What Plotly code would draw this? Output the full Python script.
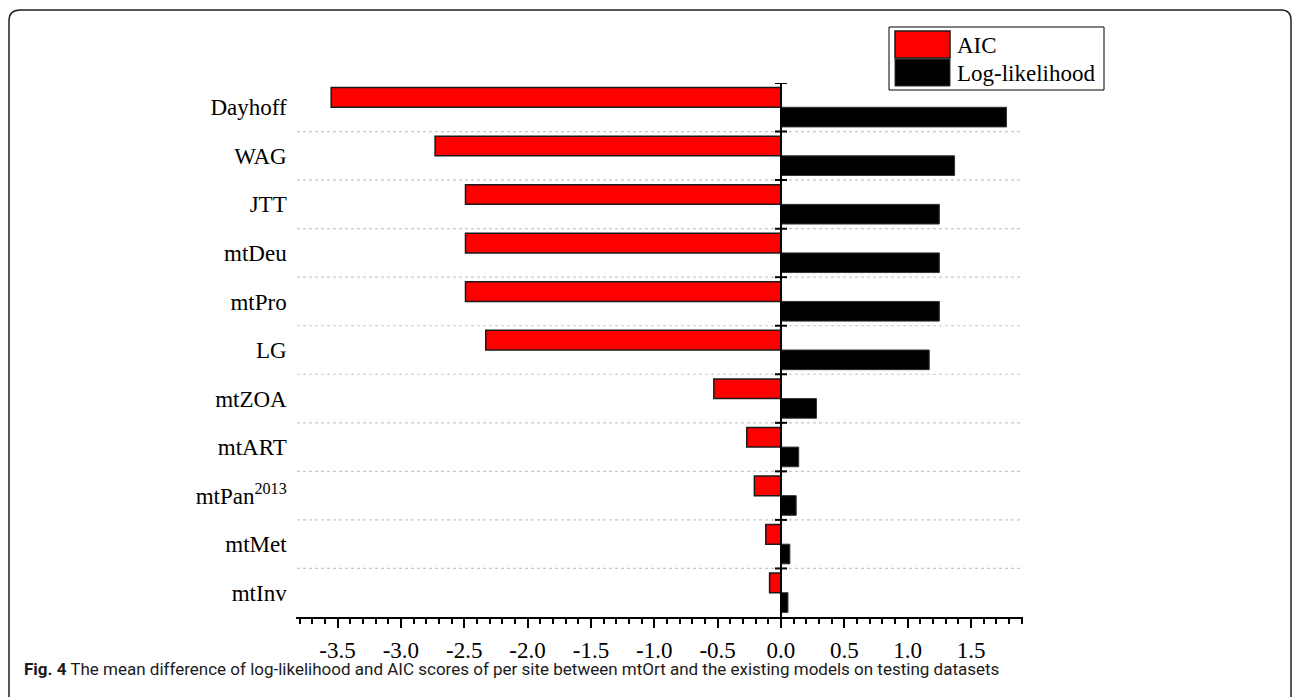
import plotly.graph_objects as go

# ---------------- data ----------------
models = ["Dayhoff", "WAG", "JTT", "mtDeu", "mtPro", "LG",
          "mtZOA", "mtART", "mtPan2013", "mtMet", "mtInv"]
model_labels = ["Dayhoff", "WAG", "JTT", "mtDeu", "mtPro", "LG",
                "mtZOA", "mtART", "mtPan<sup>2013</sup>", "mtMet", "mtInv"]
aic = [-3.55, -2.73, -2.49, -2.49, -2.49, -2.33, -0.53, -0.27, -0.21, -0.12, -0.09]
loglik = [1.78, 1.37, 1.25, 1.25, 1.25, 1.17, 0.28, 0.14, 0.12, 0.07, 0.055]
x_tick_values = [-3.5, -3.0, -2.5, -2.0, -1.5, -1.0, -0.5, 0.0, 0.5, 1.0, 1.5]
x_tick_labels = ["-3.5", "-3.0", "-2.5", "-2.0", "-1.5", "-1.0", "-0.5", "0.0", "0.5", "1.0", "1.5"]
series_names = ["AIC", "Log-likelihood"]
caption_bold = "Fig. 4"
caption_text = ("The mean difference of log-likelihood and AIC scores of per site "
                "between mtOrt and the existing models on testing datasets")

# ---------------- helpers (pixel -> paper) ----------------
W, H = 1292, 697
def px(x):
    return x / W
def py(y):
    return 1 - y / H

SERIF = "Liberation Serif"

fig = go.Figure()
fig.add_trace(go.Bar(
    y=models, x=aic, orientation="h", name=series_names[0],
    marker=dict(color="#ff0000", line=dict(color="#1a1a1a", width=1.5)),
))
fig.add_trace(go.Bar(
    y=models, x=loglik, orientation="h", name=series_names[1],
    marker=dict(color="#000000", line=dict(color="#333333", width=1)),
))

shapes = []
# dotted grid lines between categories
for i in range(len(models) - 1):
    shapes.append(dict(type="line", xref="paper", yref="y",
                       x0=px(297), x1=px(1021), y0=i + 0.5, y1=i + 0.5,
                       line=dict(color="#c8c8c8", width=1.2, dash="dot"), layer="below"))
# vertical axis at zero
shapes.append(dict(type="line", xref="x", yref="paper", x0=0, x1=0,
                   y0=py(617), y1=py(83), line=dict(color="black", width=2)))
# crossing ticks at category boundaries
for i in range(len(models)):
    b = i - 0.5
    shapes.append(dict(type="line", xref="x", xsizemode="pixel", xanchor=0,
                       x0=-6, x1=6, yref="y", y0=b, y1=b,
                       line=dict(color="black", width=2)))
# custom legend
shapes.append(dict(type="rect", xref="paper", yref="paper",
                   x0=px(889), x1=px(1104), y0=py(27), y1=py(90),
                   line=dict(color="black", width=1), fillcolor="white"))
shapes.append(dict(type="rect", xref="paper", yref="paper",
                   x0=px(895), x1=px(950), y0=py(31), y1=py(58),
                   line=dict(color="#1a1a1a", width=1.5), fillcolor="#ff0000"))
shapes.append(dict(type="rect", xref="paper", yref="paper",
                   x0=px(895), x1=px(950), y0=py(59), y1=py(86),
                   line=dict(color="#333333", width=1), fillcolor="#000000"))
# rounded figure frame
frame = (f"M {px(9)},{py(697)} L {px(9)},{py(21)} Q {px(9)},{py(10)} {px(20)},{py(10)} "
         f"L {px(1281)},{py(10)} Q {px(1291)},{py(10)} {px(1291)},{py(20)} L {px(1291)},{py(697)}")
shapes.append(dict(type="path", xref="paper", yref="paper", path=frame,
                   line=dict(color="#222222", width=1.5)))

annotations = [
    dict(text=series_names[0], x=px(955), y=py(45), xref="paper", yref="paper",
         xanchor="left", yanchor="middle", showarrow=False,
         font=dict(family=SERIF, size=23, color="black")),
    dict(text=series_names[1], x=px(955), y=py(73), xref="paper", yref="paper",
         xanchor="left", yanchor="middle", showarrow=False,
         font=dict(family=SERIF, size=23, color="black")),
    dict(text=f"<b>{caption_bold}</b> {caption_text}", x=px(22), y=py(669),
         xref="paper", yref="paper", xanchor="left", yanchor="middle", showarrow=False,
         font=dict(family="Roboto, sans-serif", size=17, color="#1a1a1a")),
]

fig.update_layout(
    width=W, height=H,
    margin=dict(l=0, r=0, t=0, b=0),
    paper_bgcolor="white", plot_bgcolor="white",
    barmode="group", bargap=0.19, bargroupgap=0,
    showlegend=False,
    shapes=shapes, annotations=annotations,
    xaxis=dict(
        domain=[px(295.7), px(1023)], range=[-3.83, 1.91],
        tickmode="array", tickvals=x_tick_values, ticktext=x_tick_labels,
        ticks="outside", ticklen=9, tickwidth=2, tickcolor="black",
        showline=True, linecolor="black", linewidth=2,
        showgrid=False, zeroline=False, automargin=False,
        ticklabelstandoff=2,
        tickfont=dict(family=SERIF, size=23, color="black"),
        minor=dict(tickmode="linear", tick0=0, dtick=0.1, ticks="outside",
                   ticklen=5, tickwidth=1.5, tickcolor="black", showgrid=False),
    ),
    yaxis=dict(
        domain=[py(617), py(83)], type="category",
        categoryorder="array", categoryarray=models,
        range=[10.5, -0.5],
        tickmode="array", tickvals=models, ticktext=model_labels,
        ticks="", showline=False, showgrid=False, zeroline=False,
        automargin=False, ticklabelstandoff=8,
        tickfont=dict(family=SERIF, size=23, color="black"),
    ),
)

fig.write_html("out.html")
